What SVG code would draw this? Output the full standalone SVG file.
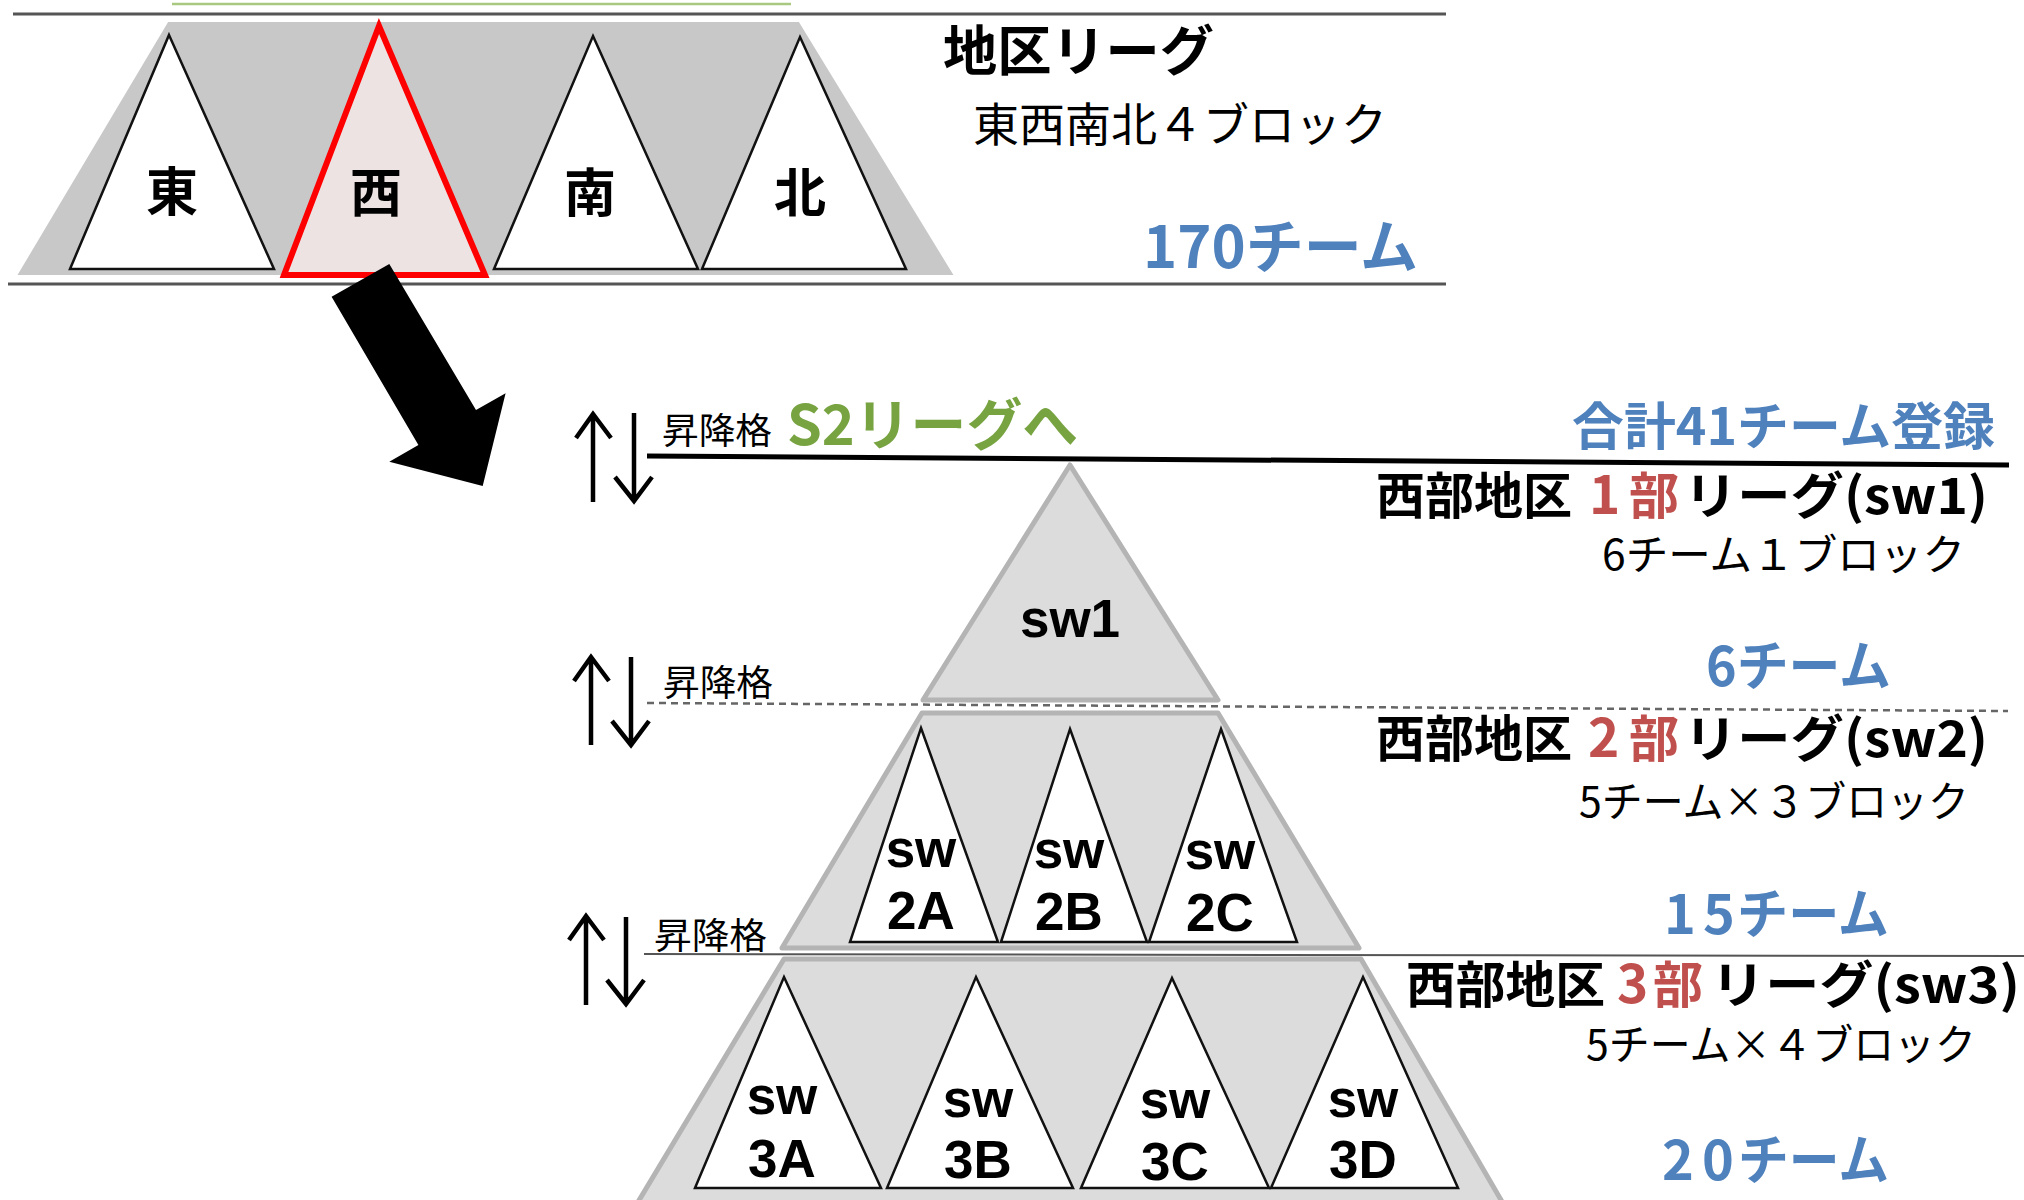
<svg xmlns="http://www.w3.org/2000/svg" width="2024" height="1200" viewBox="0 0 2024 1200">
<style>
.jp{font-family:"Noto Sans CJK JP","Noto Sans",sans-serif}
.b{font-weight:bold}
.blk{fill:#000}
.blue{fill:#4f81bd}
.red{fill:#c0504d}
.green{fill:#77a341}
.tri{fill:#fff;stroke:#111;stroke-width:2.5;stroke-linejoin:miter}
.pyr{fill:#dcdcdc;stroke:#b4b4b4;stroke-width:5;stroke-linejoin:round}
.lbl{font-family:"Liberation Sans","Noto Sans",sans-serif;font-weight:bold;font-size:53px;text-anchor:middle}
.ud{fill:none;stroke:#000;stroke-width:4.5}
</style>
<rect width="2024" height="1200" fill="#fff"/>

<g id="connectors">
  <line x1="172" y1="4" x2="791" y2="4" stroke="#a8c97f" stroke-width="2.5"/>
  <line x1="13" y1="14" x2="1446" y2="14" stroke="#555" stroke-width="3"/>
  <line x1="8" y1="284" x2="1446" y2="284" stroke="#555" stroke-width="3"/>
</g>

<g id="top-block">
  <polygon points="167,20 800,20 957,277 14,277" fill="#c8c8c8" stroke="#fff" stroke-width="4"/>
</g>
<g id="node-east">
  <polygon class="tri" points="169,35 274,269 70,269"/>
  <text class="jp b" x="172" y="211" font-size="52" text-anchor="middle">東</text>
</g>
<g id="node-west">
  <polygon points="379,26 485,275 284,275" fill="#eee3e3" stroke="#ff0000" stroke-width="6"/>
  <text class="jp b" x="376" y="212" font-size="52" text-anchor="middle">西</text>
</g>
<g id="node-south">
  <polygon class="tri" points="593,36 698,269 494,269"/>
  <text class="jp b" x="590" y="212" font-size="52" text-anchor="middle">南</text>
</g>
<g id="node-north">
  <polygon class="tri" points="800,37 906,269 702,269"/>
  <text class="jp b" x="800" y="212" font-size="52" text-anchor="middle">北</text>
</g>

<g id="top-labels">
  <text class="jp b" x="943" y="71" font-size="54" textLength="271" lengthAdjust="spacingAndGlyphs">地区リーグ</text>
  <text class="jp" x="973" y="141" font-size="46" textLength="414" lengthAdjust="spacingAndGlyphs">東西南北４ブロック</text>
  <text class="jp b blue" x="1143" y="268" font-size="58" textLength="275" lengthAdjust="spacingAndGlyphs">170チーム</text>
</g>

<g id="big-arrow">
  <polygon points="331.6,296.7 389.3,264 476,410 505.6,393.3 482.7,486 389.3,461.7 418.4,445" fill="#000"/>
</g>

<g id="node-sw1">
  <polygon class="pyr" points="1070,465 1218,700 923,700"/>
  <text class="lbl" x="1070" y="637">sw1</text>
</g>
<g id="node-sw2">
  <polygon class="pyr" points="922,713 1218,713 1359,948 782,948"/>
</g>
<g id="node-sw2A">
  <polygon class="tri" points="921,728 998,942 850,942"/>
  <text class="lbl"><tspan x="921" y="867">sw</tspan><tspan x="921" y="929">2A</tspan></text>
</g>
<g id="node-sw2B">
  <polygon class="tri" points="1070,729 1147,942 1001,942"/>
  <text class="lbl"><tspan x="1069" y="868">sw</tspan><tspan x="1069" y="930">2B</tspan></text>
</g>
<g id="node-sw2C">
  <polygon class="tri" points="1221,729 1297,942 1149,942"/>
  <text class="lbl"><tspan x="1220" y="869">sw</tspan><tspan x="1220" y="931">2C</tspan></text>
</g>
<g id="node-sw3">
  <polygon class="pyr" points="784,959 1361,959 1508,1212 632,1212"/>
</g>
<g id="node-sw3A">
  <polygon class="tri" points="784,977 881,1188 695,1188"/>
  <text class="lbl"><tspan x="782" y="1114">sw</tspan><tspan x="782" y="1177">3A</tspan></text>
</g>
<g id="node-sw3B">
  <polygon class="tri" points="976,977 1073,1188 887,1188"/>
  <text class="lbl"><tspan x="978" y="1117">sw</tspan><tspan x="978" y="1178">3B</tspan></text>
</g>
<g id="node-sw3C">
  <polygon class="tri" points="1172,978 1269,1188 1081,1188"/>
  <text class="lbl"><tspan x="1175" y="1118">sw</tspan><tspan x="1175" y="1180">3C</tspan></text>
</g>
<g id="node-sw3D">
  <polygon class="tri" points="1363,977 1458,1188 1271,1188"/>
  <text class="lbl"><tspan x="1363" y="1117">sw</tspan><tspan x="1363" y="1178">3D</tspan></text>
</g>

<g id="level-lines">
  <line x1="647" y1="456" x2="2009" y2="465" stroke="#000" stroke-width="5"/>
  <line x1="647" y1="703" x2="2008" y2="711" stroke="#666" stroke-width="2.5" stroke-dasharray="7 5"/>
  <line x1="644" y1="954" x2="2024" y2="956" stroke="#555" stroke-width="2"/>
</g>

<g id="updown-arrows">
  <path class="ud" d="M593,415 V502 M576,438 L593,414 L611,438"/>
  <path class="ud" d="M634,413 V500 M615,477 L634,501 L652,477"/>
  <path class="ud" d="M591,658 V745 M574,681 L591,657 L609,681"/>
  <path class="ud" d="M631,657 V744 M612,721 L631,745 L649,721"/>
  <path class="ud" d="M586,917 V1005 M569,940 L586,916 L604,940"/>
  <path class="ud" d="M626,917 V1004 M607,980 L626,1004 L644,980"/>
</g>

<g id="side-labels">
  <text class="jp" x="662" y="444" font-size="36" textLength="110" lengthAdjust="spacingAndGlyphs">昇降格</text>
  <text class="jp b green" x="787" y="445" font-size="56" textLength="291" lengthAdjust="spacingAndGlyphs">S2リーグへ</text>
  <text class="jp" x="663" y="696" font-size="36" textLength="110" lengthAdjust="spacingAndGlyphs">昇降格</text>
  <text class="jp" x="654" y="949" font-size="36" textLength="113" lengthAdjust="spacingAndGlyphs">昇降格</text>

  <text class="jp b blue" x="1572" y="445" font-size="51" textLength="423" lengthAdjust="spacingAndGlyphs">合計41チーム登録</text>

  <text class="jp b" y="514" font-size="50"><tspan x="1376" textLength="196" lengthAdjust="spacingAndGlyphs">西部地区</tspan><tspan class="red" x="1589" font-size="53">1</tspan><tspan class="red" x="1629">部</tspan><tspan x="1684" textLength="304" lengthAdjust="spacingAndGlyphs">リーグ(sw1)</tspan></text>
  <text class="jp" x="1602" y="570" font-size="42" textLength="363" lengthAdjust="spacingAndGlyphs">6チーム１ブロック</text>
  <text class="jp b blue" x="1706" y="686" font-size="54" textLength="185" lengthAdjust="spacingAndGlyphs">6チーム</text>

  <text class="jp b" y="757" font-size="50"><tspan x="1376" textLength="196" lengthAdjust="spacingAndGlyphs">西部地区</tspan><tspan class="red" x="1588" font-size="53">2</tspan><tspan class="red" x="1629">部</tspan><tspan x="1684" textLength="304" lengthAdjust="spacingAndGlyphs">リーグ(sw2)</tspan></text>
  <text class="jp" x="1579" y="817" font-size="42" textLength="390" lengthAdjust="spacingAndGlyphs">5チーム×３ブロック</text>
  <text class="jp b blue" y="934" font-size="54"><tspan x="1664">1</tspan><tspan x="1703">5</tspan><tspan x="1737" textLength="152" lengthAdjust="spacingAndGlyphs">チーム</tspan></text>

  <text class="jp b" y="1003" font-size="50"><tspan x="1406" textLength="199" lengthAdjust="spacingAndGlyphs">西部地区</tspan><tspan class="red" x="1617" font-size="53">3</tspan><tspan class="red" x="1653">部</tspan><tspan x="1711" textLength="309" lengthAdjust="spacingAndGlyphs">リーグ(sw3)</tspan></text>
  <text class="jp" x="1586" y="1060" font-size="42" textLength="390" lengthAdjust="spacingAndGlyphs">5チーム×４ブロック</text>
  <text class="jp b blue" y="1180" font-size="54"><tspan x="1662">2</tspan><tspan x="1702">0</tspan><tspan x="1738" textLength="151" lengthAdjust="spacingAndGlyphs">チーム</tspan></text>
</g>
</svg>
